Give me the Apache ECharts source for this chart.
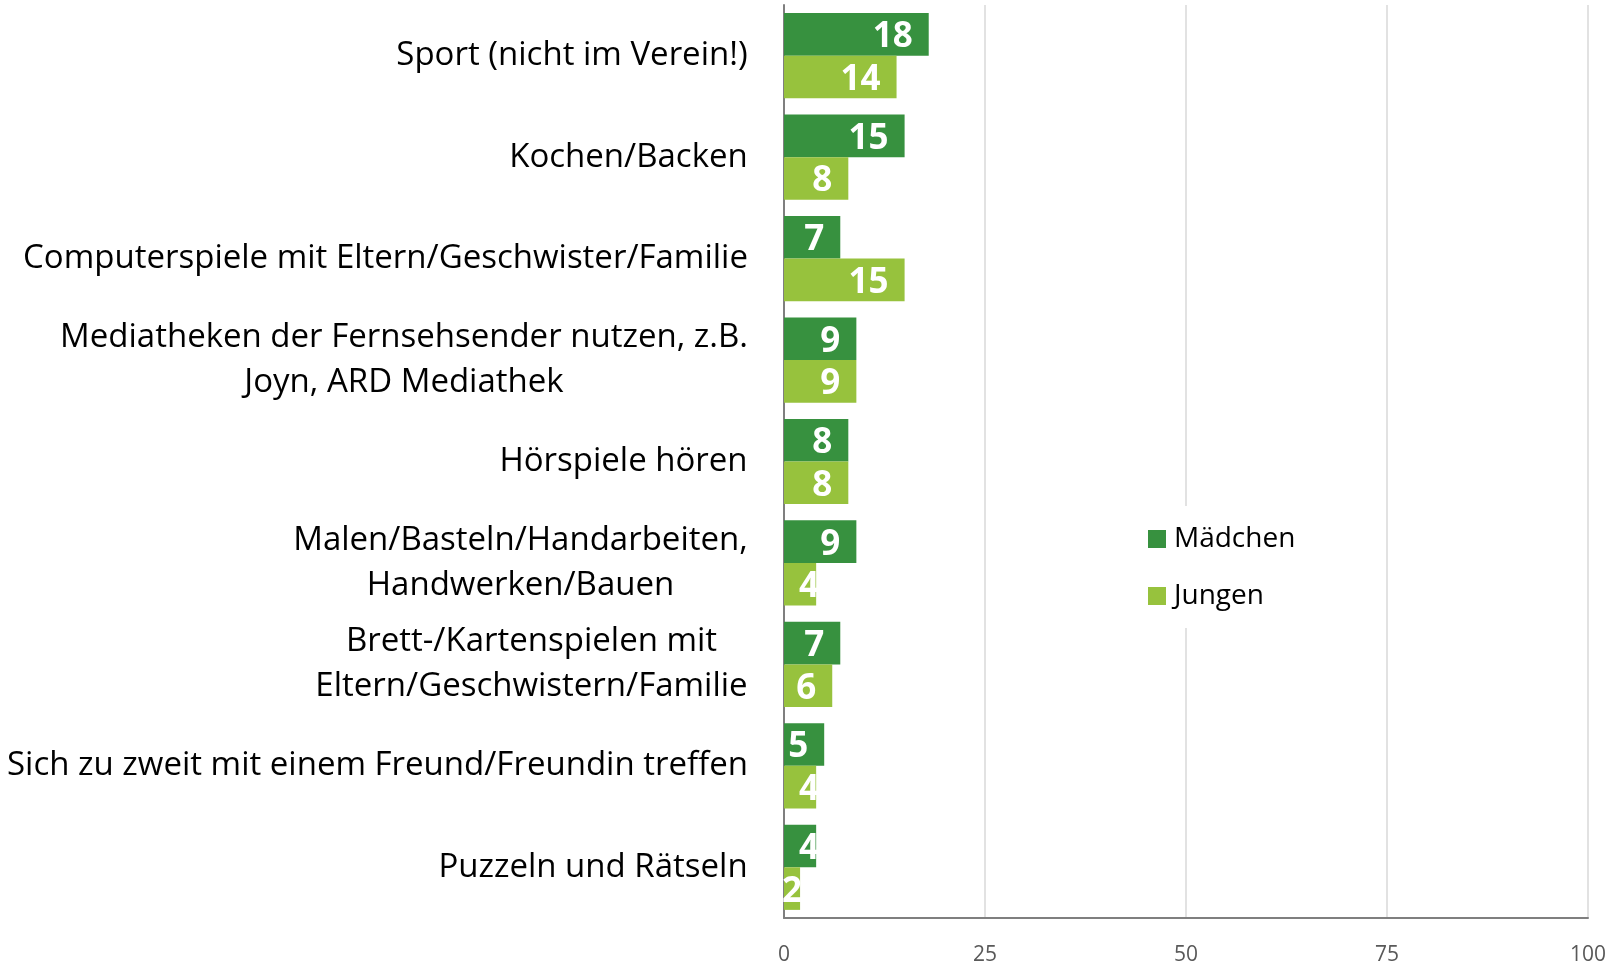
<!DOCTYPE html>
<html><head><meta charset="utf-8">
<script src="https://cdn.jsdelivr.net/npm/echarts@6/dist/echarts.min.js"></script>
<style>html,body{margin:0;padding:0;background:#fff}#c{width:1618px;height:966px}</style>
</head><body><div id="c"></div>
<script>
const categories = [
  "Sport (nicht im Verein!)",
  "Kochen/Backen",
  "Computerspiele mit Eltern/Geschwister/Familie",
  "Mediatheken der Fernsehsender nutzen, z.B.\nJoyn, ARD Mediathek",
  "Hörspiele hören",
  "Malen/Basteln/Handarbeiten,\nHandwerken/Bauen",
  "Brett-/Kartenspielen mit\nEltern/Geschwistern/Familie",
  "Sich zu zweit mit einem Freund/Freundin treffen",
  "Puzzeln und Rätseln"
];
const maedchen = [18, 15, 7, 9, 8, 9, 7, 5, 4];
const jungen = [14, 8, 15, 9, 8, 4, 6, 4, 2];
const seriesNames = ["Mädchen", "Jungen"];
const xTicks = [0, 25, 50, 75, 100];

const FONT = "Open Sans";
const CAT_SIZE = 33;
const ctx = document.createElement("canvas").getContext("2d");
ctx.font = CAT_SIZE + "px '" + FONT + "'";
const rich = {};
categories.forEach((c, i) => {
  const w = Math.max(...c.split("\n").map(l => ctx.measureText(l).width));
  rich["c" + i] = {width: Math.ceil(w), align: "center", fontSize: CAT_SIZE, fontFamily: FONT, color: "#000", lineHeight: 45};
});

function mkData(arr) {
  return arr.map(v => {
    if (v < 5) return {value: v, label: {position: "inside", offset: [v === 4 ? 9 : 0, 3]}};
    return v;
  });
}
const colors = ["#37913f", "#97c23d"];
const chart = echarts.init(document.getElementById("c"), null, {renderer: "canvas"});
chart.setOption({
  animation: false,
  color: colors,
  grid: {left: 784, right: 30, top: 5, bottom: 48, containLabel: false, outerBoundsMode: "none"},
  legend: {
    orient: "vertical", left: 1138, top: 506,
    padding: [19, 10, 18, 10], backgroundColor: "#fff",
    itemWidth: 18, itemHeight: 18, itemGap: 29, icon: "rect",
    textStyle: {fontFamily: FONT, fontSize: 28, lineHeight: 28, color: "#000", padding: [0, 0, 0, 3]},
    data: seriesNames
  },
  xAxis: {
    type: "value", min: xTicks[0], max: xTicks[xTicks.length - 1], interval: 25,
    axisLine: {show: true, lineStyle: {color: "#7f7f7f", width: 2}},
    axisTick: {show: false},
    splitLine: {show: true, lineStyle: {color: "#d9d9d9", width: 1.5}},
    axisLabel: {fontFamily: FONT, fontSize: 21, color: "#595959", margin: 27}
  },
  yAxis: {
    type: "category", inverse: true, data: categories,
    axisLine: {show: true, lineStyle: {color: "#7f7f7f", width: 2}},
    axisTick: {show: false},
    axisLabel: {
      margin: 36, align: "right",
      formatter: (v, i) => v.split("\n").map(l => "{c" + i + "|" + l + "}").join("\n"),
      rich: rich
    }
  },
  series: [maedchen, jungen].map((arr, k) => ({
    name: seriesNames[k], type: "bar", data: mkData(arr),
    barGap: "0%", barCategoryGap: "16%",
    label: {show: true, position: "insideRight", distance: 16, offset: [0, 3], color: "#fff",
      fontFamily: FONT, fontWeight: "bold", fontSize: 35}
  }))
});
</script></body></html>
